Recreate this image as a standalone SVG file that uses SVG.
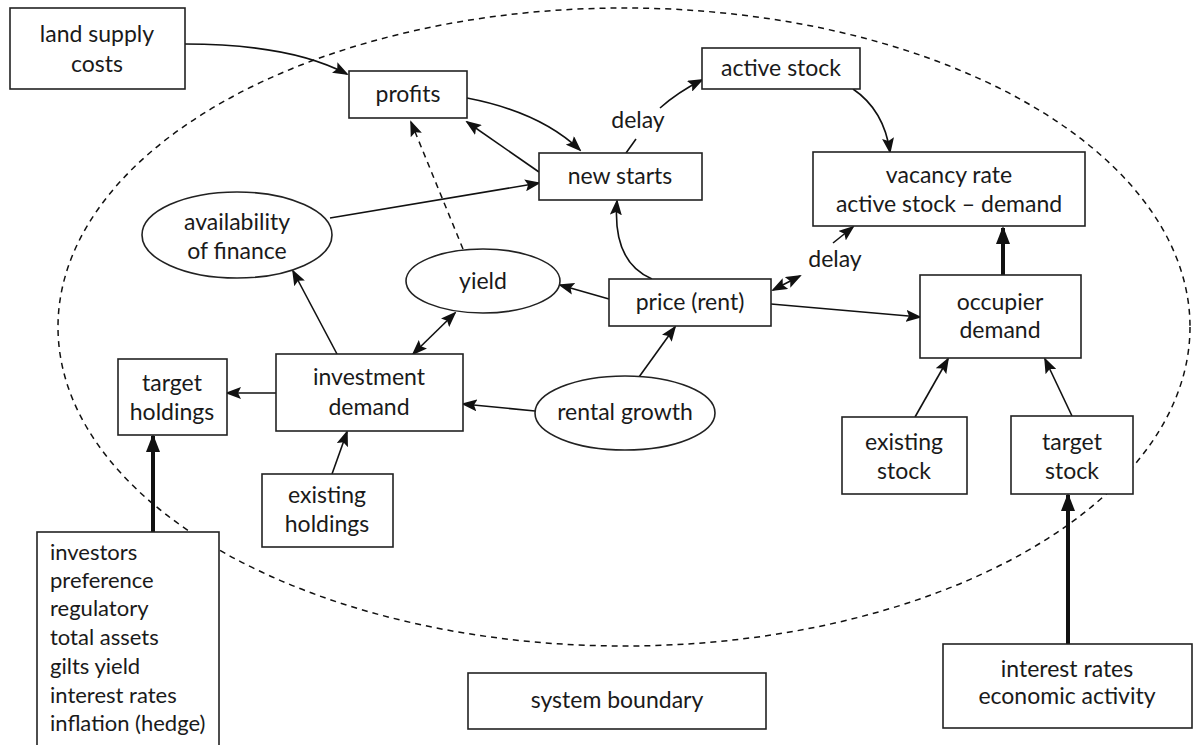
<svg xmlns="http://www.w3.org/2000/svg" width="1196" height="745" viewBox="0 0 1196 745">
<style>
.box{fill:#fff;stroke:#222;stroke-width:1.6}
.ell{fill:#fff;stroke:#222;stroke-width:1.6}
text{font-family:Lato,"Open Sans","DejaVu Sans",sans-serif;font-size:23px;fill:#1a1a1a}
.c{text-anchor:middle}
.sm{font-size:22px}
.ln{fill:none;stroke:#111;stroke-width:1.6}
.thick{fill:none;stroke:#111;stroke-width:4}
.dash{fill:none;stroke:#111;stroke-width:1.5;stroke-dasharray:6 5}
</style>
<defs>
<marker id="a" markerUnits="userSpaceOnUse" markerWidth="16" markerHeight="12" refX="14" refY="6" orient="auto-start-reverse" viewBox="0 0 16 12">
<path d="M0,0 L16,6 L0,12 L3,6 Z" fill="#111"/>
</marker>
<marker id="at" markerUnits="userSpaceOnUse" markerWidth="18" markerHeight="14" refX="16" refY="7" orient="auto" viewBox="0 0 18 14">
<path d="M0,0 L18,7 L0,14 Z" fill="#111"/>
</marker>
</defs>
<rect width="1196" height="745" fill="#fff"/>
<ellipse id="boundary" class="dash" cx="624" cy="327" rx="566" ry="319"/>
<g id="connectors">
<path class="ln" d="M185,44 Q290,44 347,74" marker-end="url(#a)"/>
<path class="ln" d="M467,98 Q540,112 580,150" marker-end="url(#a)"/>
<path class="ln" d="M539,172 L467,122" marker-end="url(#a)"/>
<path class="ln" d="M330,218 L539,183" marker-end="url(#a)"/>
<path class="dash" d="M463,249 L411,122" marker-end="url(#a)"/>
<path class="ln" d="M626,153 L636,139"/>
<path class="ln" d="M660,108 Q678,92 702,80" marker-end="url(#a)"/>
<path class="ln" d="M853,89 Q884,110 890,152" marker-end="url(#a)"/>
<path class="ln" d="M800,276 L773,290" marker-start="url(#a)" marker-end="url(#a)"/>
<path class="ln" d="M833,243 L853,227" marker-end="url(#a)"/>
<path class="thick" d="M1003,275 L1003,228" marker-end="url(#at)"/>
<path class="ln" d="M771,304 L920,317" marker-end="url(#a)"/>
<path class="ln" d="M652,279 Q612,262 617,201" marker-end="url(#a)"/>
<path class="ln" d="M609,299 L560,285" marker-end="url(#a)"/>
<path class="ln" d="M639,377 L675,327" marker-end="url(#a)"/>
<path class="ln" d="M535,411 L463,404" marker-end="url(#a)"/>
<path class="ln" d="M455,313 L413,354" marker-start="url(#a)" marker-end="url(#a)"/>
<path class="ln" d="M337,354 L293,271" marker-end="url(#a)"/>
<path class="ln" d="M276,393 L227,393" marker-end="url(#a)"/>
<path class="ln" d="M332,474 L347,432" marker-end="url(#a)"/>
<path class="thick" d="M153,532 L153,436" marker-end="url(#at)"/>
<path class="ln" d="M915,417 L948,359" marker-end="url(#a)"/>
<path class="ln" d="M1072,416 L1045,359" marker-end="url(#a)"/>
<path class="thick" d="M1068,644 L1068,495" marker-end="url(#at)"/>
<text class="c" x="638" y="128">delay</text>
<text class="c" x="835" y="267">delay</text>
</g>
<g id="land"><rect class="box" x="10" y="8" width="175" height="81"/><text class="c" x="97" y="42">land supply</text><text class="c" x="97" y="72">costs</text></g>
<g id="profits"><rect class="box" x="349" y="71" width="118" height="47"/><text class="c" x="408" y="102">profits</text></g>
<g id="activestock"><rect class="box" x="702" y="48" width="158" height="41"/><text class="c" x="781" y="76">active stock</text></g>
<g id="newstarts"><rect class="box" x="539" y="153" width="163" height="47"/><text class="c" x="620" y="184">new starts</text></g>
<g id="vacancy"><rect class="box" x="813" y="152" width="272" height="74"/><text class="c" x="949" y="183">vacancy rate</text><text class="c" x="949" y="212">active stock – demand</text></g>
<g id="occupier"><rect class="box" x="920" y="275" width="161" height="83"/><text class="c" x="1000" y="310">occupier</text><text class="c" x="1000" y="338">demand</text></g>
<g id="existingstock"><rect class="box" x="842" y="417" width="125" height="77"/><text class="c" x="904" y="450">existing</text><text class="c" x="904" y="479">stock</text></g>
<g id="targetstock"><rect class="box" x="1011" y="416" width="122" height="78"/><text class="c" x="1072" y="450">target</text><text class="c" x="1072" y="479">stock</text></g>
<g id="interest"><rect class="box" x="943" y="644" width="249" height="84"/><text class="c" x="1067" y="677">interest rates</text><text class="c" x="1067" y="704">economic activity</text></g>
<g id="sysboundary"><rect class="box" x="468" y="673" width="298" height="56"/><text class="c" x="617" y="708">system boundary</text></g>
<g id="investors"><rect class="box" x="37" y="532" width="182" height="220"/>
<text class="sm" x="50" y="560">investors</text><text class="sm" x="50" y="588">preference</text><text class="sm" x="50" y="616">regulatory</text><text class="sm" x="50" y="645">total assets</text><text class="sm" x="50" y="674">gilts yield</text><text class="sm" x="50" y="703">interest rates</text><text class="sm" x="50" y="731">inflation (hedge)</text></g>
<g id="targetholdings"><rect class="box" x="118" y="359" width="109" height="76"/><text class="c" x="172" y="391">target</text><text class="c" x="172" y="420">holdings</text></g>
<g id="investment"><rect class="box" x="276" y="354" width="187" height="77"/><text class="c" x="369" y="385">investment</text><text class="c" x="369" y="415">demand</text></g>
<g id="existingholdings"><rect class="box" x="262" y="474" width="131" height="73"/><text class="c" x="327" y="503">existing</text><text class="c" x="327" y="532">holdings</text></g>
<g id="finance"><ellipse class="ell" cx="237" cy="235" rx="95" ry="43"/><text class="c" x="237" y="230">availability</text><text class="c" x="237" y="259">of finance</text></g>
<g id="yield"><ellipse class="ell" cx="483" cy="281" rx="77" ry="32"/><text class="c" x="483" y="289">yield</text></g>
<g id="price"><rect class="box" x="609" y="279" width="162" height="47"/><text class="c" x="690" y="310">price (rent)</text></g>
<g id="rental"><ellipse class="ell" cx="625" cy="413" rx="90" ry="37"/><text class="c" x="625" y="420">rental growth</text></g>
</svg>
